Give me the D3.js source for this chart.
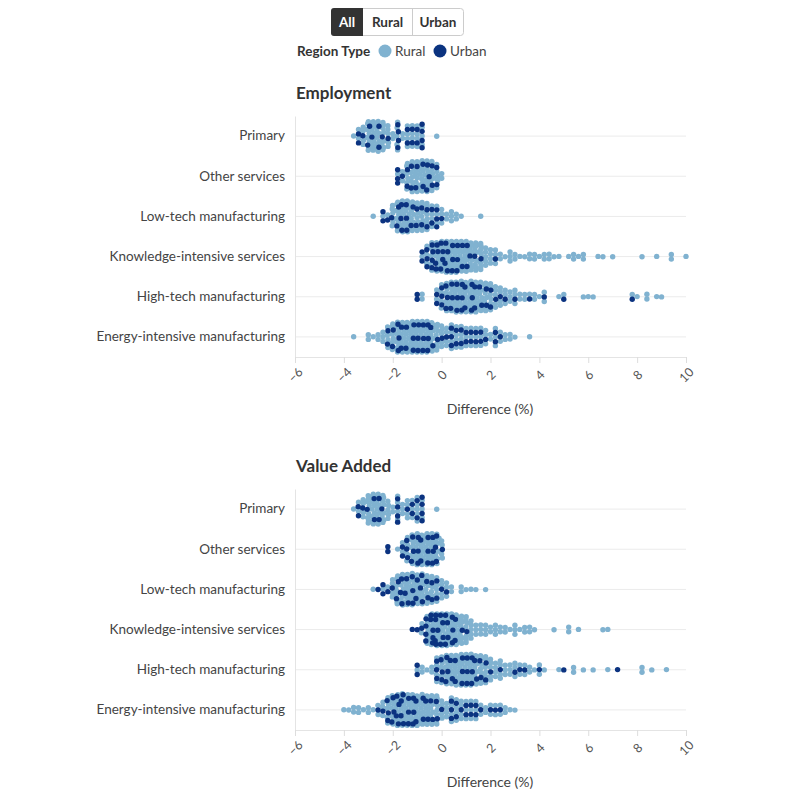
<!DOCTYPE html>
<html><head><meta charset="utf-8">
<script src="https://cdn.jsdelivr.net/npm/d3@7"></script>
<style>
body{margin:0;background:#fff;}
svg{font-family:Lato,"Source Sans Pro",sans-serif;}
</style></head><body>
<svg id="chart" width="796" height="807"></svg>
<script>
const categories = ["Primary","Other services","Low-tech manufacturing","Knowledge-intensive services","High-tech manufacturing","Energy-intensive manufacturing"];
const xTicks = [-6,-4,-2,0,2,4,6,8,10];
const regionTypes = ["Rural","Urban"];
const buttonLabels = ["All","Rural","Urban"];
const panelTitles = ["Employment","Value Added"];
const axisTitle = "Difference (%)";
const binStep = 0.2;

// Employment: first bin value per category, then counts of regions per 0.2-wide bin
const empStart = [-3.6,-2.0,-2.8,-0.8,-1.2,-3.6];
const empRural = [
  [1,2,4,8,9,9,8,5,2,5,2,4,4,4,3,0,0,1],
  [0,1,2,6,9,9,9,9,8,5,2],
  [1,0,1,1,5,8,9,9,8,7,7,6,4,3,3,2,3,2,1,0,0,0,1],
  [1,3,5,6,7,8,9,9,9,9,8,8,7,5,4,3,2,1,3,2,1,1,2,2,1,2,2,1,1,0,1,2,1,2,0,0,1,1,0,1,0,0,0,0,0,1,0,0,1,0,0,2,0,0,1],
  [0,0,2,0,0,2,4,6,7,8,9,9,9,9,8,7,6,5,4,3,3,3,2,2,1,2,1,2,0,0,1,1,0,0,0,1,1,1,0,0,0,0,0,0,0,1,1,0,2,0,1,1],
  [1,0,0,2,1,2,3,4,6,8,9,9,9,9,9,9,8,7,5,4,4,4,4,3,3,3,3,3,2,3,2,2,2,1,0,0,1]
];
const empUrban = [
  [0,2,1,2,1,2,1,1,0,4,0,2,2,2,4,0,0,0],
  [0,3,1,2,2,2,2,3,2,2,0],
  [0,0,2,1,1,2,3,3,2,2,2,2,2,3,1],
  [2,3,4,4,4,4,3,3,2,2,1,1,1,0,0,1],
  [0,2,0,0,0,2,3,3,3,3,3,2,3,2,2,2,2,1,1,1,0,1,0,0,1,0,0,1,0,0,0,1,0,0,0,0,0,0,0,0,0,0,0,0,0,1],
  [0,0,0,0,0,0,0,2,2,3,2,2,3,3,3,3,2,1,1,1,3,2,2,2,2,2,2,1,0,2,1]
];

// Value added
const vaStart = [-3.6,-2.2,-2.8,-1.2,-1.2,-4.0];
const vaRural = [
  [1,2,4,8,9,9,8,5,2,4,3,4,3,5,3,0,0,1],
  [0,0,1,2,4,7,9,9,9,9,8,4],
  [1,0,1,1,4,7,9,9,9,8,8,7,6,5,4,3,2,0,2,1,1,1,0,1],
  [0,0,2,5,7,8,9,9,9,9,8,7,5,3,3,3,2,3,2,2,1,3,1,2,2,1,0,0,0,1,0,0,2,0,1,0,0,0,0,1,1],
  [0,1,2,1,2,4,5,7,8,9,9,9,9,8,7,6,5,4,4,3,3,3,2,2,2,1,2,1,0,0,1,0,0,2,0,1,0,1,0,0,1,0,0,0,0,0,0,2,0,1,0,0,1],
  [1,1,2,2,1,2,1,2,3,5,7,8,9,9,9,9,9,8,8,7,4,4,4,4,4,3,3,3,2,2,2,2,2,2,1,1]
];
const vaUrban = [
  [0,2,1,1,2,2,1,0,0,4,0,1,2,2,4,0,0,0],
  [2,0,0,2,3,3,3,2,3,3,3,1],
  [0,1,2,1,1,2,3,3,3,2,3,2,2,2,1,1],
  [1,1,1,4,5,5,4,4,3,2,1,1],
  [0,2,0,0,0,3,3,3,2,2,3,3,3,2,2,2,1,0,1,0,0,1,1,1,0,0,1,0,0,0,0,1,0,0,0,0,0,0,0,0,0,0,1],
  [0,0,0,0,0,0,0,1,1,3,3,4,4,3,3,2,2,2,2,2,1,0,3,2,1,2,2,2,1,0,1,1,1]
];

const colors = {Rural:"#80b2d0", Urban:"#0b3380"};
const svg = d3.select("#chart");

// ---- Buttons
const btnX = [331,363,412,464];
svg.append("rect").attr("x",331.5).attr("y",8.5).attr("width",132).attr("height",27).attr("rx",3)
  .attr("fill","#fff").attr("stroke","#ccc");
svg.append("line").attr("x1",412.5).attr("x2",412.5).attr("y1",9).attr("y2",35).attr("stroke","#ccc");
svg.append("rect").attr("x",331).attr("y",8).attr("width",32).attr("height",28).attr("rx",3).attr("fill","#333");
svg.append("rect").attr("x",350).attr("y",8).attr("width",13).attr("height",28).attr("fill","#333");
buttonLabels.forEach((b,i)=>{
  svg.append("text").attr("x",(btnX[i]+btnX[i+1])/2).attr("y",27).attr("text-anchor","middle")
    .attr("font-size",13.5).attr("font-weight",700).attr("fill",i===0?"#fff":"#333").text(b);
});

// ---- Legend
const leg = svg.append("g");
leg.append("text").attr("x",297).attr("y",56).attr("font-size",13.5).attr("font-weight",700).attr("fill","#333").text("Region Type");
const legX = [385,440];
regionTypes.forEach((t,i)=>{
  leg.append("circle").attr("cx",legX[i]).attr("cy",51).attr("r",6.5).attr("fill",colors[t]);
  leg.append("text").attr("x",legX[i]+10).attr("y",56).attr("font-size",13.5).attr("fill","#444").text(t);
});

const x = d3.scaleLinear().domain([-6,10]).range([295,686]);

function buildNodes(start, rural, urban, ci){
  const nodes = [];
  const n = Math.max(rural.length, urban.length);
  for(let b=0;b<n;b++){
    const r = rural[b]||0, u = urban[b]||0, tot = r+u;
    const v = start + b*binStep;
    const types = new Array(tot).fill("Rural");
    for(let j=0;j<u;j++) types[Math.min(tot-1,Math.floor((j+0.5)*tot/u))] = "Urban";
    let cnt = types.filter(t=>t==="Urban").length, k=0;
    while(cnt<u && k<tot){ if(types[k]==="Rural"){types[k]="Urban";cnt++;} k++; }
    types.forEach((t,k)=>nodes.push({v, type:t, k, tot, b, cat:ci}));
  }
  return nodes;
}

function panel(top, title, start, rural, urban){
  const y = d3.scaleBand().domain(categories).range([top, top+241]);
  const g = svg.append("g");
  g.append("text").attr("x",296).attr("y",top-17).attr("font-size",17).attr("font-weight",700).attr("fill","#333").text(title);
  g.append("g").selectAll("line").data(categories).join("line")
    .attr("x1",295).attr("x2",686).attr("y1",d=>y(d)+y.bandwidth()/2).attr("y2",d=>y(d)+y.bandwidth()/2)
    .attr("stroke","#ebebeb");
  const ya = g.append("g").attr("transform","translate(295,0)")
    .call(d3.axisLeft(y).tickSize(0).tickPadding(10));
  ya.select(".domain").attr("stroke","#e4e4e4");
  ya.selectAll("text").attr("font-size",13.5).attr("fill","#444").attr("font-family","Lato,sans-serif");
  const xa = g.append("g").attr("transform",`translate(0,${top+241})`)
    .call(d3.axisBottom(x).tickValues(xTicks).tickSize(6));
  xa.select(".domain").attr("stroke","#e4e4e4");
  xa.selectAll(".tick line").attr("stroke","#ddd");
  xa.selectAll("text").attr("y",0).attr("dy","0.35em").attr("transform","translate(0,18) rotate(-45)")
    .style("text-anchor","middle").attr("font-size",12.5).attr("fill","#555").attr("font-family","Lato,sans-serif");
  g.append("text").attr("x",490).attr("y",top+298).attr("text-anchor","middle").attr("font-size",14).attr("fill","#444").text(axisTitle);

  const all = [];
  categories.forEach((c,ci)=>{
    const cy = y(c)+y.bandwidth()/2;
    const nodes = buildNodes(start[ci], rural[ci], urban[ci], ci);
    nodes.forEach(n=>{
      n.tx = x(n.v);
      n.x = n.tx + ((n.k%3)-1)*0.8;
      n.y = cy + (n.k - (n.tot-1)/2)*4.6 + ((n.b%2)?1.2:-1.2);
    });
    const sim = d3.forceSimulation(nodes)
      .force("x", d3.forceX(d=>d.tx).strength(0.9))
      .force("y", d3.forceY(cy).strength(0.03))
      .force("c", d3.forceCollide(2.35).iterations(3))
      .stop();
    for(let i=0;i<300;i++) sim.tick();
    const L = 18;
    nodes.forEach(n=>{ n.y = cy + L*Math.tanh((n.y-cy)/L); });
    all.push(...nodes);
  });
  all.sort((a,b)=>(a.type==="Urban")-(b.type==="Urban"));
  g.append("g").selectAll("circle").data(all).join("circle")
    .attr("cx",d=>d.x).attr("cy",d=>d.y).attr("r",2.7).attr("fill",d=>colors[d.type]);
}

panel(116, panelTitles[0], empStart, empRural, empUrban);
panel(489, panelTitles[1], vaStart, vaRural, vaUrban);
</script>
</body></html>
